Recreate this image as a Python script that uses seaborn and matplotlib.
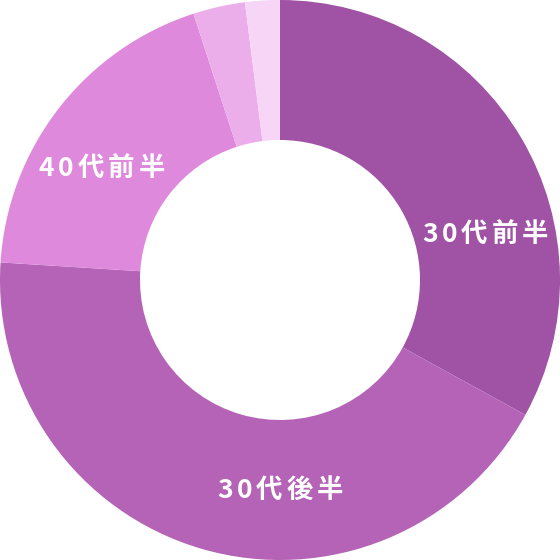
import numpy as np
import matplotlib
matplotlib.use("Agg")
import matplotlib.pyplot as plt
from matplotlib.transforms import offset_copy
import seaborn as sns

# 年代別の割合 (%)
categories = ["30代前半", "30代後半", "40代前半", "40代後半", "50代以上"]
values = [33, 43, 19, 3, 2]
colors = ["#a052a5", "#b463b6", "#de89dc", "#ecaeeb", "#f6d5f6"]
# ラベルを表示するもの (小さい2つは無し)
show_label = [True, True, True, False, False]
label_angles = [77.5, 180, 302]  # 上から時計回りの角度

sns.set_theme(style="white")
plt.rcParams["font.family"] = ["Noto Sans CJK JP", "DejaVu Sans"]

fig = plt.figure(figsize=(5.6, 5.6), dpi=100)
ax = fig.add_axes([0, 0, 1, 1])

ax.pie(
    values,
    colors=sns.color_palette(colors),
    startangle=90,
    counterclock=False,
    radius=1.0,
    wedgeprops=dict(width=0.5, linewidth=0),
)

ax.set_xlim(-1, 1)
ax.set_ylim(-1, 1)
ax.set_aspect("equal")
ax.axis("off")

# ラベル (文字間隔をあけて1文字ずつ描く)
renderer = fig.canvas.get_renderer()
font_kw = dict(color="white", fontsize=19, fontweight="bold", va="center", ha="left")
spacing = 4  # px

labels = [c for c, s in zip(categories, show_label) if s]
for lab, ang in zip(labels, label_angles):
    t = np.deg2rad(ang)
    r = 0.75
    x, y = r * np.sin(t), r * np.cos(t)
    widths = []
    for ch in lab:
        tmp = ax.text(0, 0, ch, **font_kw)
        widths.append(tmp.get_window_extent(renderer).width)
        tmp.remove()
    total = sum(widths) + spacing * (len(lab) - 1)
    off = -total / 2
    for ch, w in zip(lab, widths):
        tr = offset_copy(ax.transData, fig=fig, x=off, y=0, units="dots")
        ax.text(x, y, ch, transform=tr, **font_kw)
        off += w + spacing

plt.savefig("out.png", dpi=100)
